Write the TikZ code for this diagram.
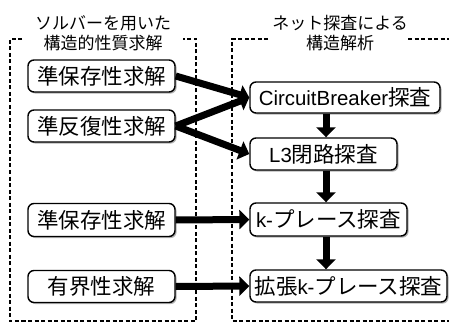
\documentclass[tikz,border=0pt]{standalone}
\usepackage{fontspec}
\setmainfont{Noto Sans CJK JP}
\newfontfamily\lat{Liberation Sans}[Scale=0.95]
\usetikzlibrary{arrows.meta,shadows}
\begin{document}
\begin{tikzpicture}[x=1pt,y=-1pt,
  box/.style={draw=black, line width=1.4pt, rounded corners=6pt, fill=white,
    drop shadow={shadow xshift=1.6pt, shadow yshift=-1.6pt, fill=black!50, opacity=0.6},
    font=\fontsize{21.5}{23}\selectfont, inner sep=0pt},
  ttl/.style={font=\fontsize{17}{20.5}\selectfont, align=center, inner sep=0pt},
  frame/.style={line width=1.1pt, dash pattern=on 4pt off 2.5pt},
  arr/.style={line width=7pt, -{Triangle[length=10pt,width=19pt]}}]
\useasboundingbox (0,0) rectangle (449,323);

% frames
\draw[frame] (22,39) -- (10,39) -- (10,321) -- (196,321) -- (196,39) -- (183,39);
\draw[frame] (268,39) -- (232,39) -- (232,321) -- (449,321);
\draw[frame] (408,39) -- (449,39);

% titles
\node[ttl] (tl) at (103,33) {ソルバーを用いた\\構造的性質求解};
\node[ttl] (tr) at (340,33) {ネット探査による\\構造解析};

% left nodes
\node[box, minimum width=147pt, minimum height=32pt] (n1) at (101.5,76) {準保存性求解};
\node[box, minimum width=147pt, minimum height=32pt] (n2) at (101.5,126) {準反復性求解};
\node[box, minimum width=147pt, minimum height=33pt] (n3) at (101.5,220) {準保存性求解};
\node[box, minimum width=147pt, minimum height=32pt] (n4) at (101.5,286.5) {有界性求解};

% right nodes
\node[box, minimum width=190pt, minimum height=31pt] (cb) at (345,97.5) {{\lat CircuitBreaker}探査};
\node[box, minimum width=147pt, minimum height=32pt] (l3) at (323.5,154) {{\lat L3}閉路探査};
\node[box, minimum width=157pt, minimum height=33pt] (kp) at (328.5,219.5) {{\lat k-}プレース探査};
\node[box, minimum width=197pt, minimum height=32pt] (kx) at (348.5,286) {拡張{\lat k-}プレース探査};

\coordinate (vx) at (326,0);

% arrows
\draw[arr] (n1.east) -- (cb.west);
\draw[arr] (n2.east) -- (cb.west);
\draw[arr] (n2.east) -- (l3.west);
\draw[arr] (n3.east) -- (kp.west);
\draw[arr] (n4.east) -- (kx.west);
\draw[arr] (cb.south -| vx) -- (l3.north -| vx);
\draw[arr] (l3.south -| vx) -- (kp.north -| vx);
\draw[arr] (kp.south -| vx) -- (kx.north -| vx);
\end{tikzpicture}
\end{document}
